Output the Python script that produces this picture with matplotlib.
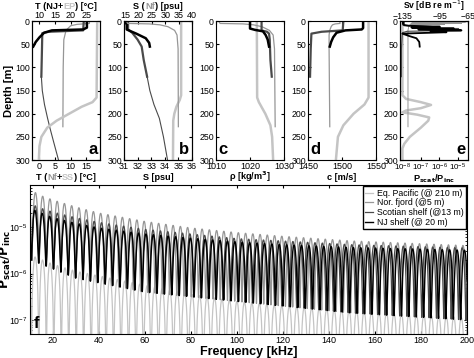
import numpy as np
import matplotlib
matplotlib.use('Agg')
from matplotlib import pyplot as plt

plt.rcParams['font.family'] = ['Liberation Sans', 'DejaVu Sans']
plt.rcParams['font.size'] = 6.5
plt.rcParams['xtick.labelsize'] = 6.5
plt.rcParams['ytick.labelsize'] = 6.3
plt.rcParams['xtick.direction'] = 'in'
plt.rcParams['ytick.direction'] = 'in'
plt.rcParams['xtick.major.size'] = 2.5
plt.rcParams['ytick.major.size'] = 2.5
plt.rcParams['xtick.minor.size'] = 1.5
plt.rcParams['ytick.minor.size'] = 1.5
plt.rcParams['xtick.major.pad'] = 1.5
plt.rcParams['ytick.major.pad'] = 1.5
plt.rcParams['axes.linewidth'] = 0.8

C_EP = '#c4c4c4'
C_NF = '#969696'
C_SS = '#4a4a4a'
C_NJ = '#000000'

# ---- a: temperature (NJ + EP on top axis, Nf + SS on bottom axis)
nj_T_z = [0, 14, 18, 20, 25, 35, 45, 55]
nj_T = [25.2, 25.2, 24.0, 14.0, 11.5, 10.0, 8.8, 8.0]
ep_T_z = [0, 165, 175, 185, 200, 215, 230, 250, 270, 300]
ep_T = [28.5, 28.3, 27.0, 23.5, 19.5, 15.5, 12.5, 10.6, 10.0, 9.8]
ss_T_z = [0, 20, 23, 26, 60, 120]
ss_T = [14.2, 14.0, 3.0, 0.9, 0.8, 0.6]
ss_T_deep_z = [120, 150, 180, 210, 232, 260, 300]
ss_T_deep = [0.6, 0.9, 1.6, 2.6, 3.4, 4.5, 6.1]
nf_T_z = [0, 5, 7, 10, 20, 40, 100, 228]
nf_T = [16.0, 16.0, 12.0, 10.0, 8.5, 7.8, 7.6, 7.5]

# ---- b: salinity (Nf on top axis)
nj_S_z = [0, 18, 22, 27, 37, 47, 55]
nj_S = [31.2, 31.2, 31.5, 31.9, 32.6, 32.85, 32.9]
ss_S_z = [0, 18, 25, 40, 55, 84, 120]
ss_S = [31.3, 31.3, 31.6, 32.0, 32.3, 32.45, 32.7]
ss_S_deep_z = [120, 150, 180, 210, 250, 300]
ss_S_deep = [32.7, 32.9, 33.2, 33.6, 33.9, 34.2]
ep_S_z = [0, 160, 170, 185, 200, 215, 300]
ep_S = [35.2, 35.2, 35.1, 34.85, 34.7, 34.62, 34.6]
nf_S_z = [0, 5, 6, 8, 12, 20, 30, 60, 228]
nf_S = [15.5, 16.0, 24.0, 28.0, 31.0, 33.5, 34.4, 34.8, 34.9]

# ---- c: density
nj_rho_z = [0, 16, 19, 22, 30, 40, 55]
nj_rho = [1020.0, 1020.0, 1021.5, 1023.8, 1024.6, 1025.2, 1025.6]
ss_rho_z = [0, 20, 23, 27, 40, 84, 120]
ss_rho = [1023.4, 1023.4, 1025.0, 1025.6, 1025.8, 1026.0, 1026.4]
ep_rho_z = [0, 165, 175, 200, 225, 250, 300]
ep_rho = [1022.0, 1022.1, 1022.6, 1024.5, 1026.0, 1026.5, 1026.8]
nf_rho_z = [0, 5, 6, 8, 12, 20, 30, 60, 228]
nf_rho = [1010.8, 1011.2, 1018.0, 1021.0, 1023.5, 1025.7, 1026.8, 1027.2, 1027.4]

# ---- d: sound speed
nj_c_z = [0, 15, 18, 20, 25, 35, 45, 55]
nj_c = [1531, 1531, 1529, 1505, 1492, 1487, 1484, 1482]
ss_c_z = [0, 20, 23, 27, 60, 120]
ss_c = [1502, 1501, 1470, 1455, 1454, 1453]
ep_c_z = [0, 165, 180, 200, 225, 250, 300]
ep_c = [1539, 1539, 1533, 1517, 1502, 1494, 1491]
nf_c_z = [0, 5, 6, 8, 12, 20, 30, 60, 228]
nf_c = [1497, 1497, 1490, 1486, 1484, 1482, 1481, 1481, 1482]

# ---- e: Sv (top, dB) and Pscat/Pinc (bottom, log10)
ep_p_z = [0, 160, 168, 175, 181, 188, 193, 197, 202, 208, 215, 230, 250, 265, 275, 300]
ep_p_log = [-8.0, -8.0, -7.8, -7.0, -6.45, -7.0, -7.8, -8.0, -7.2, -6.55, -6.6, -7.0,
            -7.6, -7.9, -8.0, -8.0]
nj_sv_z = [0, 8, 10, 12, 14, 16, 18, 20, 22, 24, 27, 32, 37, 45, 55]
nj_sv = [-134, -134, -128, -95, -125, -80, -118, -72, -105, -88, -135, -128, -120, -117, -116.5]
ss_sv_z = [0, 10, 12, 14, 16, 18, 20, 22, 25, 60, 120]
ss_sv = [-133, -133, -100, -126, -75, -115, -85, -130, -135, -136, -136]
nf_sv_z = [0, 1, 2, 3, 4, 5, 6, 7, 8, 10, 20, 60, 228]
nf_sv = [-128, -70, -125, -68, -120, -72, -126, -90, -127, -128, -129, -129, -129]

# ---- f: spectra (levels in log10 at anchor frequencies, null spacing in kHz)
freq_anchor = [10, 15, 20, 30, 40, 60, 80, 100, 120, 150, 200]
nf_peak = [-4.2, -4.33, -4.42, -4.57, -4.7, -4.88, -5.02, -5.12, -5.2, -5.3, -5.4]
ss_peak = [-4.5, -4.6, -4.68, -4.8, -4.9, -5.05, -5.15, -5.25, -5.3, -5.38, -5.45]
nj_peak = [-4.6, -4.7, -4.8, -4.92, -5.02, -5.15, -5.24, -5.32, -5.38, -5.44, -5.5]
ep_peak = [-5.6, -5.7, -5.8, -5.95, -6.05, -6.25, -6.45, -6.6, -6.7, -6.8, -6.95]
dark_null = [-5.7, -5.8, -5.9, -6.1, -6.2, -6.4, -6.5, -6.6, -6.7, -6.85, -7.0]
ep_null = [-9.0] * 11
null_spacing = {'ep': 3.25, 'nf': 3.15, 'ss': 3.2, 'nj': 3.22}
first_null = {'ep': 10.6, 'nf': 10.8, 'ss': 10.7, 'nj': 10.5}

fig = plt.figure(figsize=(4.74, 3.58), dpi=100)

lefts = [0.0675, 0.2616, 0.4557, 0.6498, 0.8439]
axes = [fig.add_axes([l, 0.553, 0.1435, 0.388]) for l in lefts]


def chain_label(ax, parts, y, va, fontsize=6.6):
    full = ''.join(p[0] for p in parts)
    anchor = ax.text(0.5, y, full, transform=ax.transAxes, ha='center', va=va,
                     fontsize=fontsize, fontweight='bold', alpha=0)
    prev = anchor
    xy = (0, 0)
    for s, col in parts:
        prev = ax.annotate(s, xy=xy, xycoords=prev, ha='left', va='bottom',
                           fontsize=fontsize, fontweight='bold', color=col)
        xy = (1, 0)


def depth_axis(ax):
    ax.set_ylim(300, 0)
    ax.set_yticks(range(0, 301, 50))
    ax.tick_params(right=True, top=True, labeltop=False)


for ax in axes:
    depth_axis(ax)

# a
ax = axes[0]
ax.set_xlim(-2.4, 19.4)
ax.set_xticks([0, 5, 10, 15])
ax.plot(nf_T, nf_T_z, color=C_NF, lw=0.9)
ax.plot(ss_T_deep, ss_T_deep_z, color=C_SS, lw=0.8)
ax.plot(ss_T, ss_T_z, color=C_SS, lw=1.6)
ax.set_ylabel('Depth [m]', fontweight='bold', fontsize=8, labelpad=1)
axt = ax.twiny()
axt.set_xlim(7.6, 29.4)
axt.set_xticks([10, 15, 20, 25])
axt.tick_params(direction='in', pad=0.5)
axt.plot(ep_T, ep_T_z, color=C_EP, lw=1.8)
axt.plot(nj_T, nj_T_z, color=C_NJ, lw=1.8)
chain_label(ax, [('T (NJ+', 'k'), ('EP', C_EP), (') [°C]', 'k')], 1.075, 'bottom')
chain_label(ax, [('T (', 'k'), ('Nf', C_NF), ('+', 'k'), ('SS', C_EP), (') [°C]', 'k')],
            -0.16, 'bottom')
ax.text(0.96, 0.02, 'a', transform=ax.transAxes, ha='right', va='bottom',
        fontsize=12, fontweight='bold')

# b
ax = axes[1]
ax.set_xlim(31, 36)
ax.set_xticks([31, 32, 33, 34, 35, 36])
ax.plot(ep_S, ep_S_z, color=C_EP, lw=1.8)
ax.plot(ss_S_deep, ss_S_deep_z, color=C_SS, lw=0.8)
ax.plot(ss_S, ss_S_z, color=C_SS, lw=1.6)
ax.plot(nj_S, nj_S_z, color=C_NJ, lw=1.8)
axt = ax.twiny()
axt.set_xlim(14.6, 40)
axt.set_xticks([15, 20, 25, 30, 35, 40])
axt.tick_params(direction='in', pad=0.5)
axt.plot(nf_S, nf_S_z, color=C_NF, lw=0.9)
chain_label(ax, [('S (', 'k'), ('Nf', C_NF), (') [psu]', 'k')], 1.075, 'bottom')
chain_label(ax, [('S [psu]', 'k')], -0.16, 'bottom')
ax.text(0.96, 0.02, 'b', transform=ax.transAxes, ha='right', va='bottom',
        fontsize=12, fontweight='bold')

# c
ax = axes[2]
ax.set_xlim(1010, 1030)
ax.set_xticks([1010, 1020, 1030])
ax.plot(ep_rho, ep_rho_z, color=C_EP, lw=1.8)
ax.plot(nf_rho, nf_rho_z, color=C_NF, lw=0.9)
ax.plot(ss_rho, ss_rho_z, color=C_SS, lw=1.6)
ax.plot(nj_rho, nj_rho_z, color=C_NJ, lw=1.8)
chain_label(ax, [('ρ [kg/m$\\mathbf{^3}$]', 'k')], -0.17, 'bottom')
ax.text(0.04, 0.02, 'c', transform=ax.transAxes, ha='left', va='bottom',
        fontsize=12, fontweight='bold')

# d
ax = axes[3]
ax.set_xlim(1450, 1550)
ax.set_xticks([1450, 1500, 1550])
ax.plot(ep_c, ep_c_z, color=C_EP, lw=1.8)
ax.plot(nf_c, nf_c_z, color=C_NF, lw=0.9)
ax.plot(ss_c, ss_c_z, color=C_SS, lw=1.6)
ax.plot(nj_c, nj_c_z, color=C_NJ, lw=1.8)
chain_label(ax, [('c [m/s]', 'k')], -0.16, 'bottom')
ax.text(0.04, 0.02, 'd', transform=ax.transAxes, ha='left', va='bottom',
        fontsize=12, fontweight='bold')

# e
ax = axes[4]
ax.set_xscale('log')
ax.set_xlim(10 ** -8.13, 10 ** -4.45)
ax.set_xticks([1e-8, 1e-7, 1e-6, 1e-5])
ax.tick_params(axis='x', which='minor', bottom=False, top=False)
ax.tick_params(axis='x', labelsize=5.8)
ax.plot(10.0 ** np.array(ep_p_log), ep_p_z, color=C_EP, lw=1.8)
axt = ax.twiny()
axt.set_xlim(-137.5, -65)
axt.set_xticks([-135, -95, -65])
axt.tick_params(direction='in', pad=0.3, labelsize=6.3)
axt.plot(nf_sv, nf_sv_z, color=C_NF, lw=0.7)
axt.plot(ss_sv, ss_sv_z, color=C_SS, lw=0.8)
axt.plot(nj_sv, nj_sv_z, color=C_NJ, lw=1.3)
chain_label(ax, [('Sv [dB re m$^{-1}$]', 'k')], 1.058, 'bottom', fontsize=6.2)
chain_label(ax, [('P$\\mathbf{_{scat}}$/P$\\mathbf{_{inc}}$', 'k')], -0.18, 'bottom')
ax.text(0.96, 0.02, 'e', transform=ax.transAxes, ha='right', va='bottom',
        fontsize=12, fontweight='bold')

# f
axf = fig.add_axes([0.0633, 0.067, 0.922, 0.416])
freq = np.linspace(10, 200, 30000)


def spectrum(peak, null, key):
    hi = 10.0 ** np.interp(freq, freq_anchor, peak)
    lo = 10.0 ** np.interp(freq, freq_anchor, null)
    ph = np.sin(np.pi * (freq - first_null[key]) / null_spacing[key]) ** 2
    return lo + (hi - lo) * ph


axf.plot(freq, spectrum(ep_peak, ep_null, 'ep'), color=C_EP, lw=0.9,
         label='Eq. Pacific (@ 210 m)')
axf.plot(freq, spectrum(nf_peak, dark_null, 'nf'), color=C_NF, lw=0.9,
         label='Nor. fjord (@5 m)')
axf.plot(freq, spectrum(ss_peak, dark_null, 'ss'), color=C_SS, lw=0.9,
         label='Scotian shelf (@13 m)')
axf.plot(freq, spectrum(nj_peak, dark_null, 'nj'), color=C_NJ, lw=1.0,
         label='NJ shelf (@ 20 m)')
axf.set_yscale('log')
axf.set_xlim(10, 200)
axf.set_ylim(10 ** -7.3, 10 ** -4.1)
axf.set_xticks(range(20, 201, 20))
axf.tick_params(which='both', top=True, right=True)
axf.tick_params(axis='y', labelsize=6.3)
axf.set_xlabel('Frequency [kHz]', fontweight='bold', fontsize=9, labelpad=0.5)
axf.set_ylabel('$\\mathbf{P_{scat}/P_{inc}}$', fontsize=8.8)
axf.yaxis.set_label_coords(-0.039, 0.5)
axf.legend(loc='upper right', fontsize=6.3, handlelength=0.9, handletextpad=0.4,
           borderaxespad=0.15, borderpad=0.25, labelspacing=0.1, fancybox=False,
           edgecolor='k', framealpha=1)
axf.text(0.008, 0.02, 'f', transform=axf.transAxes, ha='left', va='bottom',
         fontsize=12, fontweight='bold')

fig.savefig('out.png', dpi=100)
